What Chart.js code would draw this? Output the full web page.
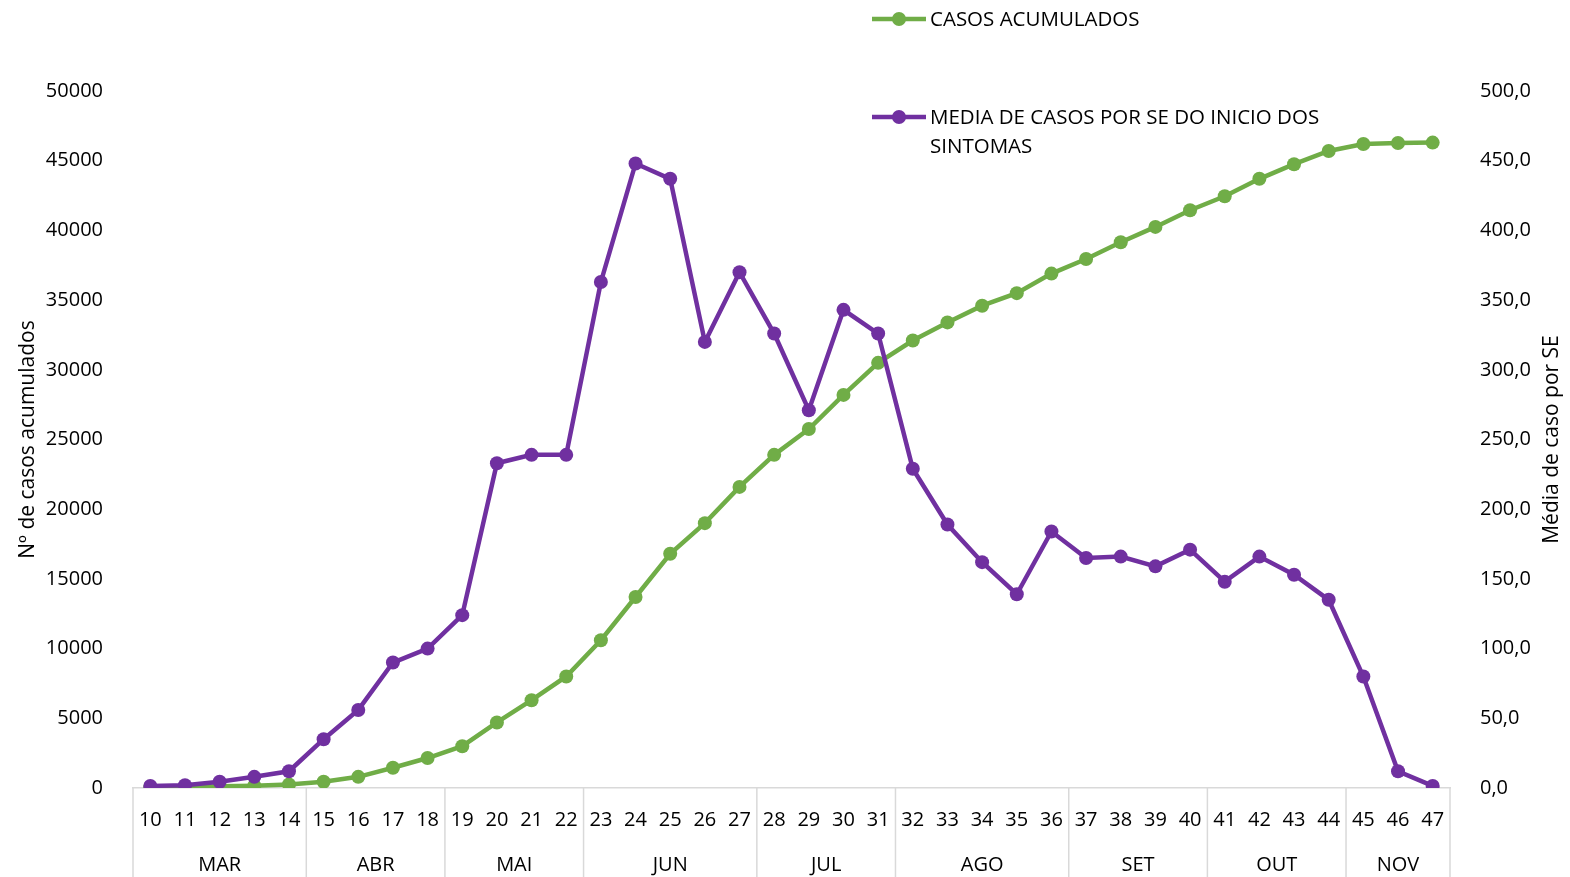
<!DOCTYPE html>
<html>
<head>
<meta charset="utf-8">
<script src="https://cdn.jsdelivr.net/npm/chart.js@4.4.0/dist/chart.umd.min.js"></script>
<style>
  html, body { margin: 0; padding: 0; background: #fff; }
  #grafico { display: block; }
</style>
</head>
<body>
<canvas id="grafico" width="1570" height="877" style="width:1570px;height:877px"></canvas>
<script>
// semanas epidemiologicas (SE) e meses
const semanas = ['10','11','12','13','14','15','16','17','18','19','20','21','22','23','24','25','26','27','28',
                 '29','30','31','32','33','34','35','36','37','38','39','40','41','42','43','44','45','46','47'];
const meses = ['MAR','ABR','MAI','JUN','JUL','AGO','SET','OUT','NOV'];
const semanasPorMes = [5, 4, 4, 5, 4, 5, 4, 4, 3];

// casos acumulados (eixo esquerdo)
const casosAcumulados = [50, 80, 120, 170, 250, 450, 800, 1450, 2150, 3000, 4700, 6300, 8000, 10600,
                         13700, 16800, 19000, 21600, 23900, 25750, 28200, 30500, 32100, 33400, 34600,
                         35500, 36900, 37950, 39150, 40250, 41450, 42450, 43700, 44750, 45700, 46200,
                         46270, 46300];

// media de casos por SE do inicio dos sintomas (eixo direito)
const mediaCasos = [1.5, 2, 4.5, 8, 12, 35, 56, 90, 100, 124, 233, 239, 239, 363, 448, 437, 320, 370,
                    326, 271, 343, 326, 229, 189, 162, 139, 184, 165, 166, 159, 171, 148, 166, 153, 135,
                    80, 12, 1.5];

const ticksEsq = { min: 0, max: 50000, step: 5000 };
const ticksDir = { min: 0, max: 500, step: 50 };

const fonte = { family: "'Open Sans', sans-serif", size: 20 };
const fonteTitulo = { family: "'Open Sans', sans-serif", size: 21 };
const corEixo = '#d9d9d9';

const mesesPlugin = {
  id: 'meses',
  afterDraw(chart) {
    const { ctx, chartArea } = chart;
    const x = chart.scales.x;
    const passo = x.getPixelForValue(1) - x.getPixelForValue(0);
    ctx.save();
    ctx.strokeStyle = corEixo;
    ctx.lineWidth = 1.5;
    ctx.fillStyle = '#000';
    ctx.font = fonte.size + 'px ' + fonte.family;
    ctx.textAlign = 'center';
    ctx.textBaseline = 'middle';
    const linha = (xp) => {
      ctx.beginPath();
      ctx.moveTo(xp, chartArea.bottom);
      ctx.lineTo(xp, chart.height);
      ctx.stroke();
    };
    let inicio = 0;
    linha(x.getPixelForValue(0) - passo / 2);
    semanasPorMes.forEach((n, i) => {
      const fim = inicio + n - 1;
      const xa = x.getPixelForValue(inicio) - passo / 2;
      const xb = x.getPixelForValue(fim) + passo / 2;
      linha(xb);
      ctx.fillText(meses[i], (xa + xb) / 2, chartArea.bottom + 77);
      inicio += n;
    });
    // titulo do eixo direito, lido de baixo para cima
    ctx.save();
    ctx.translate(1552, (chartArea.top + chartArea.bottom) / 2);
    ctx.rotate(-Math.PI / 2);
    ctx.font = fonteTitulo.size + 'px ' + fonteTitulo.family;
    ctx.fillText('Média de caso por SE', 0, 0);
    ctx.restore();
    ctx.restore();
  }
};

const legendaPlugin = {
  id: 'legenda',
  afterDraw(chart) {
    const ctx = chart.ctx;
    const posicoes = [19, 117];
    ctx.save();
    ctx.font = '20.5px ' + fonte.family;
    ctx.textBaseline = 'middle';
    ctx.textAlign = 'left';
    chart.data.datasets.forEach((ds, i) => {
      const y = posicoes[i];
      ctx.strokeStyle = ds.borderColor;
      ctx.lineWidth = 4.5;
      ctx.beginPath();
      ctx.moveTo(872, y);
      ctx.lineTo(926, y);
      ctx.stroke();
      ctx.fillStyle = ds.borderColor;
      ctx.beginPath();
      ctx.arc(899, y, 7, 0, Math.PI * 2);
      ctx.fill();
      // quebra simples do texto
      const palavras = ds.label.split(' ');
      const linhas = [];
      let atual = '';
      palavras.forEach(p => {
        const teste = atual ? atual + ' ' + p : p;
        if (ctx.measureText(teste).width > 430 && atual) { linhas.push(atual); atual = p; }
        else atual = teste;
      });
      linhas.push(atual);
      ctx.fillStyle = '#000';
      linhas.forEach((l, k) => ctx.fillText(l, 930, y + 1 + k * 29));
    });
    ctx.restore();
  }
};

new Chart(document.getElementById('grafico'), {
  type: 'line',
  data: {
    labels: semanas,
    datasets: [{
      label: 'CASOS ACUMULADOS',
      data: casosAcumulados,
      yAxisID: 'y',
      borderColor: '#70AD47',
      backgroundColor: '#70AD47',
      borderWidth: 4.5,
      pointRadius: 7,
      pointHoverRadius: 7,
      pointBorderWidth: 0,
      tension: 0,
      order: 2
    }, {
      label: 'MEDIA DE CASOS POR SE DO INICIO DOS SINTOMAS',
      data: mediaCasos,
      yAxisID: 'y1',
      borderColor: '#7030A0',
      backgroundColor: '#7030A0',
      borderWidth: 4.5,
      pointRadius: 7,
      pointHoverRadius: 7,
      pointBorderWidth: 0,
      tension: 0,
      order: 1
    }]
  },
  options: {
    responsive: false,
    animation: false,
    devicePixelRatio: 1,
    layout: { padding: { top: 91, left: 0, right: 0, bottom: 0 } },
    plugins: {
      legend: { display: false },
      tooltip: { enabled: false }
    },
    scales: {
      x: {
        offset: true,
        grid: { display: false, drawTicks: false },
        border: { color: corEixo, width: 1.5 },
        ticks: { font: fonte, color: '#000', padding: 20, maxRotation: 0, autoSkip: false },
        afterFit(s) { s.height = 89; }
      },
      y: {
        position: 'left',
        min: ticksEsq.min,
        max: ticksEsq.max,
        grid: { display: false },
        border: { display: false },
        ticks: { stepSize: ticksEsq.step, font: fonte, color: '#000', padding: 22, callback: v => String(v) },
        title: { display: true, text: 'Nº de casos acumulados', font: fonteTitulo, color: '#000', padding: { top: 15, bottom: 0 } },
        afterFit(s) { s.width = 133; }
      },
      y1: {
        position: 'right',
        min: ticksDir.min,
        max: ticksDir.max,
        grid: { display: false },
        border: { display: false },
        ticks: {
          stepSize: ticksDir.step, font: fonte, color: '#000', padding: 22,
          callback: v => v.toFixed(1).replace('.', ',')
        },
        afterFit(s) { s.width = 120; }
      }
    }
  },
  plugins: [mesesPlugin, legendaPlugin]
});
</script>
</body>
</html>
